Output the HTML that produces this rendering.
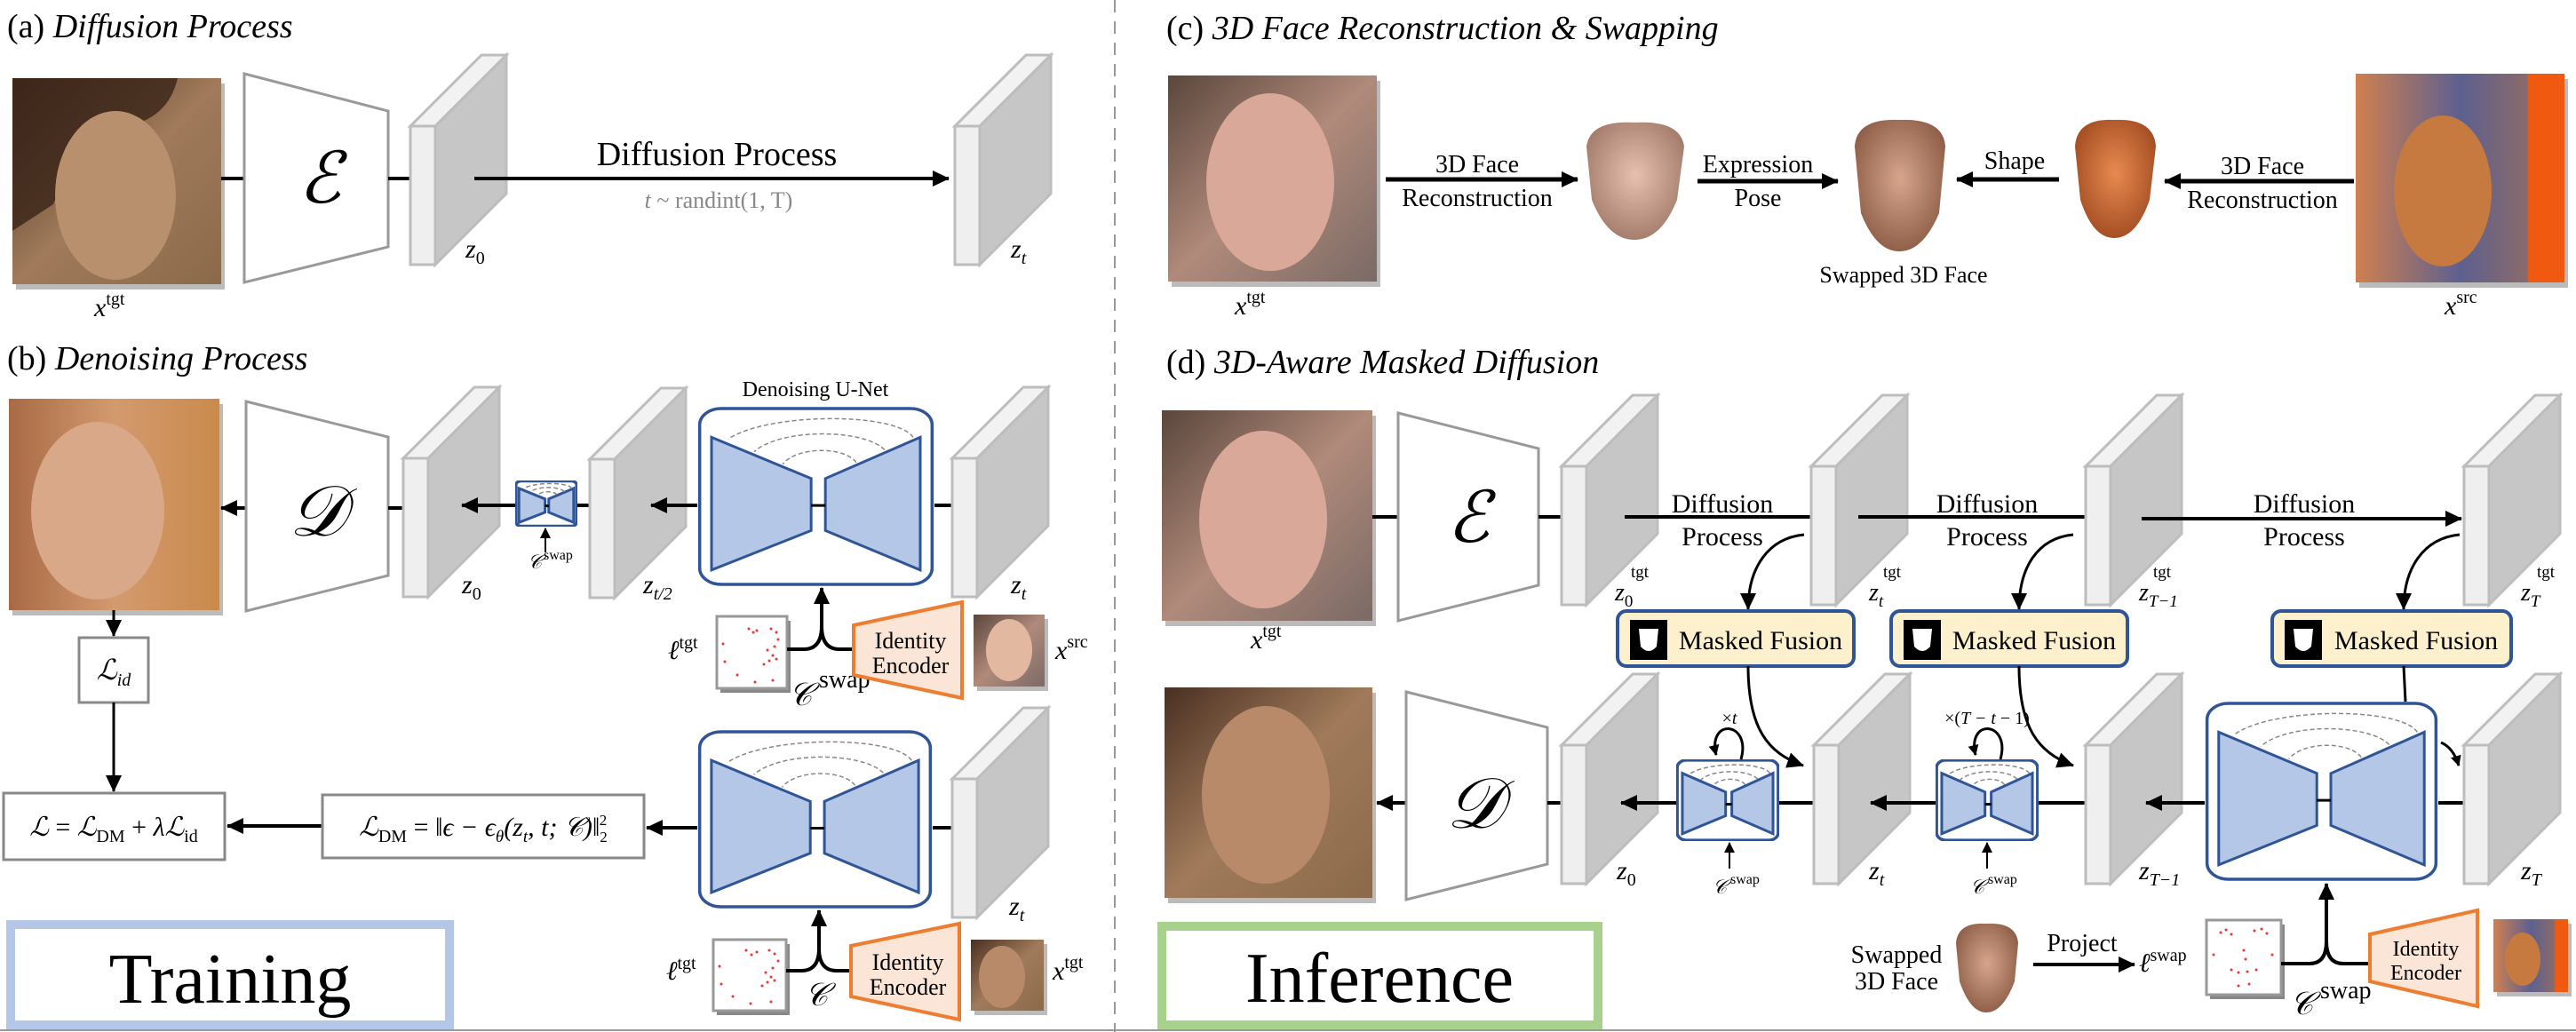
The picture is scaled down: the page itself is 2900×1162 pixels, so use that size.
<!DOCTYPE html>
<html><head><meta charset="utf-8"><style>
html,body{margin:0;padding:0;background:#fff;}
svg{display:block;}
text{font-family:"Liberation Serif",serif;fill:#000;}
.it{font-style:italic;}
</style></head><body>
<svg width="2900" height="1162" viewBox="0 0 2900 1162" xmlns="http://www.w3.org/2000/svg">
<defs>
<marker id="ah" markerUnits="userSpaceOnUse" markerWidth="20" markerHeight="20" refX="18" refY="10" orient="auto"><path d="M0,1 L19,10 L0,19 z" fill="#000"/></marker>
<marker id="ahs" markerUnits="userSpaceOnUse" markerWidth="12" markerHeight="12" refX="11" refY="6" orient="auto"><path d="M0,0 L12,6 L0,12 z" fill="#000"/></marker>
<g id="blk">
 <polygon points="0,0 80,-80 108,-80 28,0" fill="#f2f2f2" stroke="#bdbdbd" stroke-width="3"/>
 <polygon points="28,0 108,-80 108,76 28,156" fill="#c6c6c6" stroke="#bdbdbd" stroke-width="3"/>
 <rect x="0" y="0" width="28" height="156" fill="#efefef" stroke="#bdbdbd" stroke-width="3"/>
</g>
<symbol id="unet" viewBox="0 0 100 100" preserveAspectRatio="none">
 <rect x="1" y="1" width="98" height="98" rx="9" ry="9" fill="#fff" stroke="#2f5597" stroke-width="3.5" vector-effect="non-scaling-stroke"/>
 <polygon points="6,17 48,40 48,69 6,91" fill="#b4c7e7" stroke="#2f5597" stroke-width="3" vector-effect="non-scaling-stroke"/>
 <polygon points="94,17 54,40 54,69 94,91" fill="#b4c7e7" stroke="#2f5597" stroke-width="3" vector-effect="non-scaling-stroke"/>
 <path d="M91,17 C84,3 30,3 13,18" fill="none" stroke="#888" stroke-dasharray="5,3" stroke-width="1.5" vector-effect="non-scaling-stroke"/>
 <path d="M79,24 C70,12 35,12 24,25" fill="none" stroke="#888" stroke-dasharray="5,3" stroke-width="1.5" vector-effect="non-scaling-stroke"/>
 <path d="M67,31 C62,22 42,22 36,32" fill="none" stroke="#888" stroke-dasharray="5,3" stroke-width="1.5" vector-effect="non-scaling-stroke"/>
 <line x1="48" y1="55" x2="54" y2="55" stroke="#000" stroke-width="3" vector-effect="non-scaling-stroke"/>
</symbol>
<linearGradient id="skin1" x1="0" y1="0" x2="1" y2="1"><stop offset="0" stop-color="#4a3022"/><stop offset="0.5" stop-color="#a07a5a"/><stop offset="1" stop-color="#8a6a4a"/></linearGradient>
<linearGradient id="skin2" x1="0" y1="0" x2="1" y2="0"><stop offset="0" stop-color="#a86a45"/><stop offset="0.5" stop-color="#d39a6e"/><stop offset="1" stop-color="#c98a4c"/></linearGradient>
<linearGradient id="skin3" x1="0" y1="0" x2="1" y2="1"><stop offset="0" stop-color="#5a463c"/><stop offset="0.5" stop-color="#b08a7a"/><stop offset="1" stop-color="#7a6a66"/></linearGradient>
<linearGradient id="skin4" x1="0" y1="0" x2="1" y2="0"><stop offset="0" stop-color="#d08050"/><stop offset="0.5" stop-color="#5d6090"/><stop offset="0.82" stop-color="#8a6a6a"/><stop offset="0.83" stop-color="#f05a10"/><stop offset="1" stop-color="#f05a10"/></linearGradient>
<radialGradient id="mask3d" cx="0.5" cy="0.45" r="0.6"><stop offset="0" stop-color="#d7a58c"/><stop offset="1" stop-color="#8a5a44"/></radialGradient>
<radialGradient id="mask3p" cx="0.5" cy="0.45" r="0.6"><stop offset="0" stop-color="#e8c0b0"/><stop offset="1" stop-color="#a07868"/></radialGradient>
<radialGradient id="mask3o" cx="0.5" cy="0.45" r="0.6"><stop offset="0" stop-color="#e88a50"/><stop offset="1" stop-color="#a04a20"/></radialGradient>
</defs>

<line x1="1255" y1="0" x2="1255" y2="1162" stroke="#999" stroke-width="2" stroke-dasharray="14,10"/>
<line x1="0" y1="1160" x2="2900" y2="1160" stroke="#999" stroke-width="2"/>

<!-- (a) -->
<text x="8" y="42" font-size="38">(a) <tspan class="it">Diffusion Process</tspan></text>
<rect x="18" y="94" width="235" height="232" fill="#bbb"/>
<rect x="14" y="88" width="235" height="232" fill="url(#skin1)"/>
<path d="M14,88 L200,88 Q190,130 150,140 Q90,150 60,230 L14,260 Z" fill="#3a2418" opacity="0.8"/>
<ellipse cx="130" cy="220" rx="68" ry="95" fill="#b8906e"/>
<text x="106" y="356" font-size="30" class="it">x<tspan font-size="20" font-style="normal" dy="-13">tgt</tspan></text>
<line x1="249" y1="201" x2="275" y2="201" stroke="#000" stroke-width="4"/>
<polygon points="275,83 437,125 437,278 275,318" fill="#fff" stroke="#999" stroke-width="3"/>
<text x="360" y="228" font-size="80" text-anchor="middle" class="it">ℰ</text>
<line x1="437" y1="201" x2="462" y2="201" stroke="#000" stroke-width="4"/>
<use href="#blk" x="462" y="142"/>
<text x="524" y="290" font-size="30" class="it">z<tspan font-size="20" font-style="normal" dy="7">0</tspan></text>
<line x1="534" y1="201" x2="1068" y2="201" stroke="#000" stroke-width="4" marker-end="url(#ah)"/>
<text x="807" y="186" font-size="38" text-anchor="middle">Diffusion Process</text>
<text x="809" y="234" font-size="26" text-anchor="middle" style="fill:#888"><tspan class="it" style="fill:#888">t</tspan> ~ randint(1, T)</text>
<use href="#blk" x="1075" y="142"/>
<text x="1138" y="290" font-size="30" class="it">z<tspan font-size="20" dy="7">t</tspan></text>

<!-- (b) -->
<text x="8" y="416" font-size="38">(b) <tspan class="it">Denoising Process</tspan></text>
<rect x="14" y="455" width="237" height="238" fill="#bbb"/>
<rect x="10" y="449" width="237" height="238" fill="url(#skin2)"/>
<ellipse cx="110" cy="575" rx="75" ry="100" fill="#d9a888"/>
<line x1="277" y1="572" x2="249" y2="572" stroke="#000" stroke-width="4" marker-end="url(#ah)"/>
<polygon points="277,452 437,492 437,648 277,688" fill="#fff" stroke="#999" stroke-width="3"/>
<text x="357" y="603" font-size="80" text-anchor="middle" class="it">𝒟</text>
<line x1="437" y1="572" x2="454" y2="572" stroke="#000" stroke-width="4"/>
<use href="#blk" x="454" y="516"/>
<text x="520" y="668" font-size="30" class="it">z<tspan font-size="20" font-style="normal" dy="7">0</tspan></text>
<line x1="580" y1="569" x2="520" y2="569" stroke="#000" stroke-width="4" marker-end="url(#ah)"/>
<use href="#unet" x="580" y="541" width="70" height="52"/>
<line x1="650" y1="569" x2="664" y2="569" stroke="#000" stroke-width="4"/>
<line x1="614" y1="622" x2="614" y2="595" stroke="#000" stroke-width="2" marker-end="url(#ahs)"/>
<text x="594" y="640" font-size="22" class="it">𝒞</text><text x="612" y="630" font-size="16">swap</text>
<use href="#blk" x="664" y="517"/>
<text x="724" y="668" font-size="30" class="it">z<tspan font-size="20" dy="7">t/2</tspan></text>
<line x1="785" y1="569" x2="733" y2="569" stroke="#000" stroke-width="4" marker-end="url(#ah)"/>
<text x="918" y="446" font-size="24" text-anchor="middle">Denoising U-Net</text>
<use href="#unet" x="785" y="458" width="267" height="202"/>
<line x1="1052" y1="569" x2="1072" y2="569" stroke="#000" stroke-width="4"/>
<use href="#blk" x="1072" y="516"/>
<text x="1138" y="668" font-size="30" class="it">z<tspan font-size="20" dy="7">t</tspan></text>

<text x="752" y="742" font-size="30" class="it">ℓ<tspan font-size="20" font-style="normal" dy="-12">tgt</tspan></text>
<rect x="811" y="699" width="79" height="81" fill="#888"/>
<rect x="807" y="694" width="79" height="81" fill="#fff" stroke="#999" stroke-width="3"/>
<g fill="#e33"><circle cx="843" cy="708" r="1.5"/><circle cx="848" cy="712" r="1.5"/><circle cx="852" cy="710" r="1.5"/><circle cx="868" cy="708" r="1.5"/><circle cx="874" cy="712" r="1.5"/><circle cx="876" cy="720" r="1.5"/><circle cx="872" cy="728" r="1.5"/><circle cx="864" cy="732" r="1.5"/><circle cx="870" cy="738" r="1.5"/><circle cx="866" cy="744" r="1.5"/><circle cx="874" cy="742" r="1.5"/><circle cx="860" cy="748" r="1.5"/><circle cx="814" cy="725" r="1.5"/><circle cx="816" cy="745" r="1.5"/><circle cx="830" cy="760" r="1.5"/><circle cx="850" cy="768" r="1.5"/><circle cx="870" cy="766" r="1.5"/></g>
<path d="M886,731 L905,731 Q925,731 925,705" fill="none" stroke="#000" stroke-width="4"/>
<path d="M961,731 L945,731 Q925,731 925,705" fill="none" stroke="#000" stroke-width="4"/>
<line x1="925" y1="706" x2="925" y2="662" stroke="#000" stroke-width="4" marker-end="url(#ah)"/>
<text x="888" y="794" font-size="36" class="it">𝒞</text><text x="922" y="774" font-size="28">swap</text>
<polygon points="961,704 1083,678 1083,786 961,760" fill="#fbe5d6" stroke="#ed7d31" stroke-width="4"/>
<text x="1025" y="730" font-size="26" text-anchor="middle">Identity</text>
<text x="1025" y="758" font-size="26" text-anchor="middle">Encoder</text>
<rect x="1100" y="697" width="80" height="81" fill="#bbb"/>
<rect x="1096" y="692" width="80" height="81" fill="url(#skin3)"/>
<ellipse cx="1136" cy="732" rx="26" ry="35" fill="#e3b8a0"/>
<text x="1188" y="742" font-size="30" class="it">x<tspan font-size="20" font-style="normal" dy="-13">src</tspan></text>

<line x1="128" y1="687" x2="128" y2="716" stroke="#000" stroke-width="3" marker-end="url(#ah)"/>
<rect x="89" y="718" width="78" height="73" fill="#fff" stroke="#888" stroke-width="3"/>
<text x="128" y="765" font-size="32" text-anchor="middle" class="it">ℒ<tspan font-size="20" dy="7">id</tspan></text>
<line x1="128" y1="791" x2="128" y2="891" stroke="#000" stroke-width="3" marker-end="url(#ah)"/>
<rect x="4" y="893" width="249" height="75" fill="#fff" stroke="#888" stroke-width="3"/>
<text x="128" y="941" font-size="30" text-anchor="middle"><tspan class="it">ℒ</tspan> = <tspan class="it">ℒ</tspan><tspan font-size="20" dy="7">DM</tspan><tspan dy="-7"> + </tspan><tspan class="it">λℒ</tspan><tspan font-size="20" dy="7">id</tspan></text>
<line x1="363" y1="930" x2="256" y2="930" stroke="#000" stroke-width="4" marker-end="url(#ah)"/>
<rect x="363" y="895" width="362" height="71" fill="#fff" stroke="#888" stroke-width="3"/>
<text x="544" y="941" font-size="30" text-anchor="middle"><tspan class="it">ℒ</tspan><tspan font-size="20" dy="7">DM</tspan><tspan dy="-7"> = ‖</tspan><tspan class="it">ϵ − ϵ</tspan><tspan font-size="19" dy="7" class="it">θ</tspan><tspan dy="-7" class="it">(z</tspan><tspan font-size="19" dy="7" class="it">t</tspan><tspan dy="-7" class="it">, t; 𝒞)</tspan>‖<tspan font-size="17" dy="7">2</tspan><tspan font-size="17" dx="-9" dy="-19">2</tspan></text>
<line x1="785" y1="932" x2="728" y2="932" stroke="#000" stroke-width="4" marker-end="url(#ah)"/>
<use href="#unet" x="785" y="822" width="265" height="201"/>
<line x1="1050" y1="932" x2="1072" y2="932" stroke="#000" stroke-width="4"/>
<use href="#blk" x="1072" y="877"/>
<text x="1136" y="1030" font-size="30" class="it">z<tspan font-size="20" dy="7">t</tspan></text>

<text x="750" y="1103" font-size="30" class="it">ℓ<tspan font-size="20" font-style="normal" dy="-12">tgt</tspan></text>
<rect x="807" y="1063" width="82" height="80" fill="#888"/>
<rect x="803" y="1058" width="82" height="80" fill="#fff" stroke="#999" stroke-width="3"/>
<g fill="#e33"><circle cx="840" cy="1070" r="1.5"/><circle cx="846" cy="1075" r="1.5"/><circle cx="852" cy="1072" r="1.5"/><circle cx="866" cy="1070" r="1.5"/><circle cx="872" cy="1074" r="1.5"/><circle cx="876" cy="1082" r="1.5"/><circle cx="870" cy="1090" r="1.5"/><circle cx="862" cy="1095" r="1.5"/><circle cx="868" cy="1100" r="1.5"/><circle cx="864" cy="1106" r="1.5"/><circle cx="872" cy="1104" r="1.5"/><circle cx="858" cy="1110" r="1.5"/><circle cx="810" cy="1088" r="1.5"/><circle cx="812" cy="1108" r="1.5"/><circle cx="825" cy="1122" r="1.5"/><circle cx="845" cy="1130" r="1.5"/><circle cx="868" cy="1128" r="1.5"/></g>
<path d="M885,1093 L902,1093 Q922,1093 922,1068" fill="none" stroke="#000" stroke-width="4"/>
<path d="M958,1093 L942,1093 Q922,1093 922,1068" fill="none" stroke="#000" stroke-width="4"/>
<line x1="922" y1="1069" x2="922" y2="1025" stroke="#000" stroke-width="4" marker-end="url(#ah)"/>
<text x="906" y="1132" font-size="36" class="it">𝒞</text>
<polygon points="958,1065 1080,1040 1080,1148 958,1122" fill="#fbe5d6" stroke="#ed7d31" stroke-width="4"/>
<text x="1022" y="1092" font-size="26" text-anchor="middle">Identity</text>
<text x="1022" y="1120" font-size="26" text-anchor="middle">Encoder</text>
<rect x="1097" y="1063" width="82" height="80" fill="#bbb"/>
<rect x="1093" y="1058" width="82" height="80" fill="url(#skin1)"/>
<ellipse cx="1128" cy="1100" rx="26" ry="35" fill="#b98a6a"/>
<text x="1185" y="1103" font-size="30" class="it">x<tspan font-size="20" font-style="normal" dy="-13">tgt</tspan></text>

<rect x="12" y="1041" width="494" height="113" fill="#fff" stroke="#b4c7e7" stroke-width="10"/>
<text x="259" y="1129" font-size="80" text-anchor="middle">Training</text>

<!-- (c) -->
<text x="1313" y="44" font-size="38">(c) <tspan class="it">3D Face Reconstruction &amp; Swapping</tspan></text>
<rect x="1319" y="91" width="235" height="232" fill="#bbb"/>
<rect x="1315" y="85" width="235" height="232" fill="url(#skin3)"/>
<ellipse cx="1430" cy="205" rx="72" ry="100" fill="#d9a898"/>
<text x="1390" y="354" font-size="30" class="it">x<tspan font-size="20" font-style="normal" dy="-13">tgt</tspan></text>
<line x1="1560" y1="202" x2="1776" y2="202" stroke="#000" stroke-width="5" marker-end="url(#ah)"/>
<text x="1663" y="194" font-size="28" text-anchor="middle">3D Face</text>
<text x="1663" y="232" font-size="28" text-anchor="middle">Reconstruction</text>
<path d="M1786,165 Q1790,135 1840,138 Q1892,135 1896,165 L1888,225 Q1870,270 1840,270 Q1810,270 1792,225 Z" fill="url(#mask3p)"/>
<line x1="1911" y1="204" x2="2069" y2="204" stroke="#000" stroke-width="5" marker-end="url(#ah)"/>
<text x="1979" y="194" font-size="28" text-anchor="middle">Expression</text>
<text x="1979" y="232" font-size="28" text-anchor="middle">Pose</text>
<path d="M2088,165 Q2090,133 2138,135 Q2188,133 2190,165 L2183,240 Q2165,283 2138,283 Q2112,283 2095,240 Z" fill="url(#mask3d)"/>
<text x="2143" y="318" font-size="26" text-anchor="middle">Swapped 3D Face</text>
<line x1="2318" y1="202" x2="2203" y2="202" stroke="#000" stroke-width="5" marker-end="url(#ah)"/>
<text x="2268" y="190" font-size="28" text-anchor="middle">Shape</text>
<path d="M2336,165 Q2338,133 2380,135 Q2425,133 2427,165 L2420,225 Q2405,268 2380,268 Q2356,268 2342,225 Z" fill="url(#mask3o)"/>
<line x1="2650" y1="204" x2="2437" y2="204" stroke="#000" stroke-width="5" marker-end="url(#ah)"/>
<text x="2547" y="196" font-size="28" text-anchor="middle">3D Face</text>
<text x="2547" y="234" font-size="28" text-anchor="middle">Reconstruction</text>
<rect x="2656" y="89" width="235" height="235" fill="#bbb"/>
<rect x="2652" y="83" width="235" height="235" fill="url(#skin4)"/>
<ellipse cx="2750" cy="215" rx="55" ry="85" fill="#c77a40"/>
<text x="2752" y="354" font-size="30" class="it">x<tspan font-size="20" font-style="normal" dy="-13">src</tspan></text>

<!-- (d) -->
<text x="1313" y="420" font-size="38">(d) <tspan class="it">3D-Aware Masked Diffusion</tspan></text>
<rect x="1312" y="468" width="237" height="237" fill="#bbb"/>
<rect x="1308" y="462" width="237" height="237" fill="url(#skin3)"/>
<ellipse cx="1422" cy="585" rx="72" ry="100" fill="#d9a898"/>
<text x="1408" y="730" font-size="30" class="it">x<tspan font-size="20" font-style="normal" dy="-13">tgt</tspan></text>
<line x1="1545" y1="582" x2="1574" y2="582" stroke="#000" stroke-width="4"/>
<polygon points="1574,465 1732,505 1732,659 1574,699" fill="#fff" stroke="#999" stroke-width="3"/>
<text x="1653" y="610" font-size="80" text-anchor="middle" class="it">ℰ</text>
<line x1="1732" y1="582" x2="1758" y2="582" stroke="#000" stroke-width="4"/>
<use href="#blk" x="1758" y="525"/>
<text x="1818" y="676" font-size="28" class="it">z<tspan font-size="19" font-style="normal" dy="7">0</tspan></text><text x="1836" y="650" font-size="19">tgt</text>
<line x1="1829" y1="582" x2="2039" y2="582" stroke="#000" stroke-width="4"/>
<text x="1939" y="577" font-size="30" text-anchor="middle">Diffusion</text>
<text x="1939" y="614" font-size="30" text-anchor="middle">Process</text>
<use href="#blk" x="2039" y="525"/>
<text x="2104" y="676" font-size="28" class="it">z<tspan font-size="19" dy="7">t</tspan></text><text x="2120" y="650" font-size="19">tgt</text>
<line x1="2092" y1="582" x2="2348" y2="582" stroke="#000" stroke-width="4"/>
<text x="2237" y="577" font-size="30" text-anchor="middle">Diffusion</text>
<text x="2237" y="614" font-size="30" text-anchor="middle">Process</text>
<use href="#blk" x="2348" y="525"/>
<text x="2408" y="676" font-size="28" class="it">z<tspan font-size="19" dy="7">T−1</tspan></text><text x="2424" y="650" font-size="19">tgt</text>
<line x1="2411" y1="584" x2="2771" y2="584" stroke="#000" stroke-width="4" marker-end="url(#ah)"/>
<text x="2594" y="577" font-size="30" text-anchor="middle">Diffusion</text>
<text x="2594" y="614" font-size="30" text-anchor="middle">Process</text>
<use href="#blk" x="2774" y="525"/>
<text x="2838" y="676" font-size="28" class="it">z<tspan font-size="19" dy="7">T</tspan></text><text x="2856" y="650" font-size="19">tgt</text>

<path d="M2031,602 C1990,606 1968,640 1968,686" fill="none" stroke="#000" stroke-width="3" marker-end="url(#ah)"/>
<path d="M2334,602 C2293,606 2273,640 2273,686" fill="none" stroke="#000" stroke-width="3" marker-end="url(#ah)"/>
<path d="M2769,602 C2728,606 2706,640 2706,686" fill="none" stroke="#000" stroke-width="3" marker-end="url(#ah)"/>

<rect x="1821" y="688" width="266" height="62" rx="10" fill="#fdf0cc" stroke="#2f5597" stroke-width="4"/>
<rect x="1835" y="698" width="42" height="45" fill="#000"/><path d="M1845,708 L1867,708 L1865,728 Q1856,738 1847,728 Z" fill="#fff"/>
<text x="1982" y="731" font-size="30" text-anchor="middle">Masked Fusion</text>
<rect x="2129" y="688" width="266" height="62" rx="10" fill="#fdf0cc" stroke="#2f5597" stroke-width="4"/>
<rect x="2143" y="698" width="42" height="45" fill="#000"/><path d="M2153,708 L2175,708 L2173,728 Q2164,738 2155,728 Z" fill="#fff"/>
<text x="2290" y="731" font-size="30" text-anchor="middle">Masked Fusion</text>
<rect x="2558" y="688" width="269" height="62" rx="10" fill="#fdf0cc" stroke="#2f5597" stroke-width="4"/>
<rect x="2572" y="698" width="42" height="45" fill="#000"/><path d="M2582,708 L2604,708 L2602,728 Q2593,738 2584,728 Z" fill="#fff"/>
<text x="2720" y="731" font-size="30" text-anchor="middle">Masked Fusion</text>

<!-- lower row -->
<rect x="1315" y="780" width="234" height="237" fill="#bbb"/>
<rect x="1311" y="774" width="234" height="237" fill="url(#skin1)"/>
<ellipse cx="1425" cy="895" rx="72" ry="100" fill="#b98a6a"/>
<line x1="1583" y1="904" x2="1550" y2="904" stroke="#000" stroke-width="4" marker-end="url(#ah)"/>
<polygon points="1583,779 1742,819 1742,973 1583,1013" fill="#fff" stroke="#999" stroke-width="3"/>
<text x="1660" y="932" font-size="80" text-anchor="middle" class="it">𝒟</text>
<line x1="1742" y1="904" x2="1758" y2="904" stroke="#000" stroke-width="4"/>
<use href="#blk" x="1758" y="839"/>
<text x="1820" y="990" font-size="30" class="it">z<tspan font-size="20" font-style="normal" dy="7">0</tspan></text>
<line x1="1887" y1="904" x2="1825" y2="904" stroke="#000" stroke-width="4" marker-end="url(#ah)"/>
<use href="#unet" x="1887" y="855" width="116" height="92"/>
<line x1="2003" y1="904" x2="2042" y2="904" stroke="#000" stroke-width="4"/>
<path d="M1960,855 C1972,812 1922,808 1932,850" fill="none" stroke="#000" stroke-width="3" marker-end="url(#ahs)"/>
<text x="1947" y="815" font-size="20" text-anchor="middle">×<tspan class="it">t</tspan></text>
<line x1="1947" y1="978" x2="1947" y2="949" stroke="#000" stroke-width="2" marker-end="url(#ahs)"/>
<text x="1928" y="1006" font-size="22" class="it">𝒞</text><text x="1948" y="995" font-size="16">swap</text>
<path d="M1968,750 C1968,820 1990,848 2030,862" fill="none" stroke="#000" stroke-width="3" marker-end="url(#ah)"/>
<use href="#blk" x="2042" y="839"/>
<text x="2104" y="990" font-size="30" class="it">z<tspan font-size="20" dy="7">t</tspan></text>
<line x1="2179" y1="904" x2="2106" y2="904" stroke="#000" stroke-width="4" marker-end="url(#ah)"/>
<use href="#unet" x="2179" y="855" width="116" height="92"/>
<line x1="2295" y1="904" x2="2348" y2="904" stroke="#000" stroke-width="4"/>
<path d="M2252,855 C2264,812 2214,808 2224,850" fill="none" stroke="#000" stroke-width="3" marker-end="url(#ahs)"/>
<text x="2237" y="815" font-size="20" text-anchor="middle">×(<tspan class="it">T − t</tspan> − 1)</text>
<line x1="2237" y1="978" x2="2237" y2="949" stroke="#000" stroke-width="2" marker-end="url(#ahs)"/>
<text x="2218" y="1006" font-size="22" class="it">𝒞</text><text x="2238" y="995" font-size="16">swap</text>
<path d="M2273,750 C2273,820 2295,848 2334,862" fill="none" stroke="#000" stroke-width="3" marker-end="url(#ah)"/>
<use href="#blk" x="2348" y="839"/>
<text x="2408" y="990" font-size="30" class="it">z<tspan font-size="20" dy="7">T−1</tspan></text>
<line x1="2482" y1="904" x2="2416" y2="904" stroke="#000" stroke-width="4" marker-end="url(#ah)"/>
<use href="#unet" x="2482" y="790" width="263" height="202"/>
<line x1="2745" y1="904" x2="2774" y2="904" stroke="#000" stroke-width="4"/>
<path d="M2706,750 L2708,790" fill="none" stroke="#000" stroke-width="3"/>
<path d="M2748,836 Q2762,842 2768,862" fill="none" stroke="#000" stroke-width="3" marker-end="url(#ahs)"/>
<use href="#blk" x="2774" y="839"/>
<text x="2838" y="990" font-size="30" class="it">z<tspan font-size="20" dy="7">T</tspan></text>

<!-- bottom (d) -->
<text x="2135" y="1084" font-size="28" text-anchor="middle">Swapped</text>
<text x="2135" y="1114" font-size="28" text-anchor="middle">3D Face</text>
<path d="M2202,1062 Q2204,1038 2236,1040 Q2270,1038 2272,1062 L2268,1105 Q2255,1140 2236,1140 Q2218,1140 2206,1105 Z" fill="url(#mask3d)"/>
<line x1="2289" y1="1086" x2="2403" y2="1086" stroke="#000" stroke-width="4" marker-end="url(#ah)"/>
<text x="2344" y="1071" font-size="28" text-anchor="middle">Project</text>
<text x="2408" y="1094" font-size="30" class="it">ℓ<tspan font-size="20" font-style="normal" dy="-12">swap</tspan></text>
<rect x="2488" y="1041" width="84" height="84" fill="#888"/>
<rect x="2484" y="1036" width="84" height="84" fill="#fff" stroke="#999" stroke-width="3"/>
<g fill="#e33"><circle cx="2500" cy="1050" r="1.5"/><circle cx="2506" cy="1047" r="1.5"/><circle cx="2512" cy="1052" r="1.5"/><circle cx="2538" cy="1048" r="1.5"/><circle cx="2546" cy="1046" r="1.5"/><circle cx="2552" cy="1051" r="1.5"/><circle cx="2526" cy="1070" r="1.5"/><circle cx="2528" cy="1080" r="1.5"/><circle cx="2512" cy="1092" r="1.5"/><circle cx="2520" cy="1095" r="1.5"/><circle cx="2530" cy="1094" r="1.5"/><circle cx="2540" cy="1092" r="1.5"/><circle cx="2492" cy="1075" r="1.5"/><circle cx="2558" cy="1075" r="1.5"/><circle cx="2520" cy="1110" r="1.5"/><circle cx="2532" cy="1108" r="1.5"/></g>
<path d="M2568,1085 L2600,1085 Q2619,1085 2619,1060" fill="none" stroke="#000" stroke-width="4"/>
<path d="M2668,1085 L2638,1085 Q2619,1085 2619,1060" fill="none" stroke="#000" stroke-width="4"/>
<line x1="2619" y1="1061" x2="2619" y2="995" stroke="#000" stroke-width="4" marker-end="url(#ah)"/>
<text x="2578" y="1142" font-size="36" class="it">𝒞</text><text x="2612" y="1124" font-size="28">swap</text>
<polygon points="2668,1052 2789,1025 2789,1133 2668,1105" fill="#fbe5d6" stroke="#ed7d31" stroke-width="4"/>
<text x="2731" y="1076" font-size="24" text-anchor="middle">Identity</text>
<text x="2731" y="1103" font-size="24" text-anchor="middle">Encoder</text>
<rect x="2811" y="1040" width="84" height="82" fill="#bbb"/>
<rect x="2807" y="1035" width="84" height="82" fill="url(#skin4)"/>
<ellipse cx="2840" cy="1080" rx="20" ry="30" fill="#c77a40"/>

<rect x="1308" y="1043" width="491" height="111" fill="#fff" stroke="#a9d18e" stroke-width="10"/>
<text x="1553" y="1128" font-size="80" text-anchor="middle">Inference</text>
</svg>
</body></html>
